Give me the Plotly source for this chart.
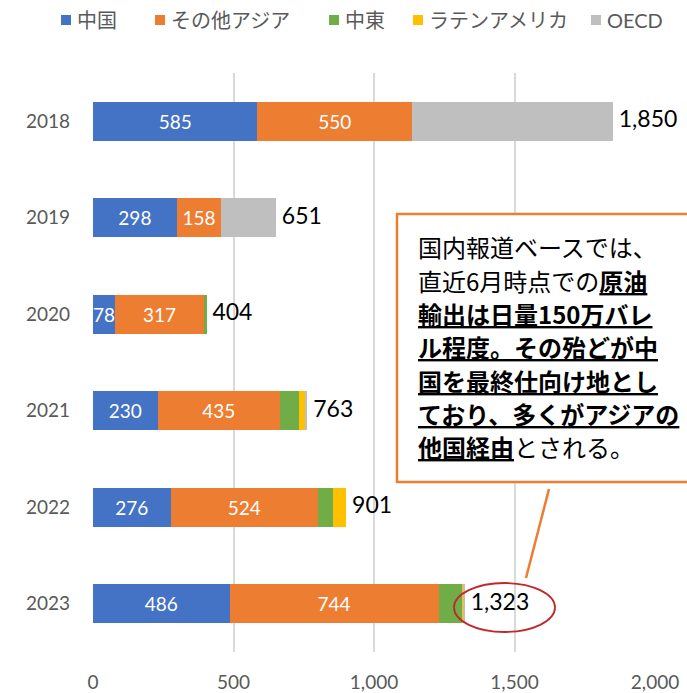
import plotly.graph_objects as go

years = ["2018", "2019", "2020", "2021", "2022", "2023"]
china = [585, 298, 78, 230, 276, 486]
other_asia = [550, 158, 317, 435, 524, 744]
middle_east = [0, 0, 9, 68, 55, 84]
latin_america = [0, 0, 0, 24, 46, 4]
oecd = [715, 195, 0, 6, 0, 5]
totals = [1850, 651, 404, 763, 901, 1323]

series_names = ["中国", "その他アジア", "中東", "ラテンアメリカ", "OECD"]
series_vals = [china, other_asia, middle_east, latin_america, oecd]
series_colors = ["#4472C4", "#ED7D31", "#70AD47", "#FFC000", "#BFBFBF"]
labelled = [True, True, False, False, False]

x_ticks = [0, 500, 1000, 1500, 2000]

callout_lines = [
    "国内報道ベースでは、",
    "直近6月時点での<b><u>原油</u></b>",
    "<b><u>輸出は日量150万バレ</u></b>",
    "<b><u>ル程度。その殆どが中</u></b>",
    "<b><u>国を最終仕向け地とし</u></b>",
    "<b><u>ており、多くがアジアの</u></b>",
    "<b><u>他国経由</u></b>とされる。",
]

# legend layout (pixel positions of each legend swatch)
legend_swatch_x = [61, 155, 329, 413, 591]

W, H = 687, 693
ML, MR, MT, MB = 93, 32, 73, 41
PW, PH = W - ML - MR, H - MT - MB


def px(x):
    return (x - ML) / PW


def py(y):
    return (H - MB - y) / PH


FONT = "Lato, 'Noto Sans CJK JP', sans-serif"
JFONT = "'Noto Sans CJK JP', sans-serif"

fig = go.Figure()
for name, vals, col, lab in zip(series_names, series_vals, series_colors, labelled):
    fig.add_trace(go.Bar(
        name=name, y=years, x=vals, orientation="h",
        marker=dict(color=col, line=dict(width=0)),
        text=[f"{v:,}" for v in vals] if lab else None,
        textposition="inside" if lab else "none",
        insidetextanchor="middle",
        constraintext="none",
        textfont=dict(color="white", size=19, family=FONT),
        showlegend=False,
    ))

fig.add_trace(go.Scatter(
    x=totals, y=years, mode="text",
    text=[f" {t:,}" for t in totals],
    textposition="middle right",
    textfont=dict(color="black", size=23, family=FONT),
    cliponaxis=False, showlegend=False, hoverinfo="skip",
))

fig.update_layout(
    width=W, height=H,
    margin=dict(l=ML, r=MR, t=MT, b=MB, autoexpand=False),
    barmode="stack", bargap=0.6,
    plot_bgcolor="white", paper_bgcolor="white",
    font=dict(family=FONT, color="#595959"),
    showlegend=False,
    xaxis=dict(range=[0, 2000], tickvals=x_ticks, tickformat=",", showgrid=True,
               gridcolor="#D9D9D9", gridwidth=1.5, zeroline=False, showline=False,
               tickfont=dict(size=19, color="#595959"), ticklabelstandoff=17),
    yaxis=dict(categoryorder="array", categoryarray=years, autorange="reversed",
               showgrid=False, zeroline=False, showline=False,
               tickfont=dict(size=19, color="#595959"), ticklabelstandoff=22),
)

# legend (swatches + labels)
for name, col, sx in zip(series_names, series_colors, legend_swatch_x):
    fig.add_shape(type="rect", xref="paper", yref="paper",
                  x0=px(sx), x1=px(sx + 10), y0=py(25), y1=py(15),
                  fillcolor=col, line=dict(width=0))
    fig.add_annotation(xref="paper", yref="paper", x=px(sx + 14), y=py(20),
                       xanchor="left", yanchor="middle", showarrow=False,
                       text=name, font=dict(size=20, color="#595959", family=FONT))

# callout box
fig.add_shape(type="rect", xref="paper", yref="paper",
              x0=px(397), x1=px(720), y0=py(482), y1=py(214),
              fillcolor="white", line=dict(color="#ED7D31", width=2.5), layer="above")
fig.add_shape(type="line", xref="paper", yref="paper",
              x0=px(549), y0=py(489), x1=px(526), y1=py(578),
              line=dict(color="#ED7D31", width=2.5), layer="above")
fig.add_shape(type="circle", xref="paper", yref="paper",
              x0=px(454), x1=px(555), y0=py(632), y1=py(583),
              line=dict(color="#C0282D", width=1.8), layer="above")

for i, line in enumerate(callout_lines):
    fig.add_annotation(xref="paper", yref="paper", x=px(416), y=py(247 + 33.3 * i),
                       xanchor="left", yanchor="middle", align="left", showarrow=False,
                       text=line, font=dict(size=24, color="black", family=JFONT))

fig.write_html("out.html", config={"displayModeBar": False},
               post_script="document.body.style.margin='0';")
